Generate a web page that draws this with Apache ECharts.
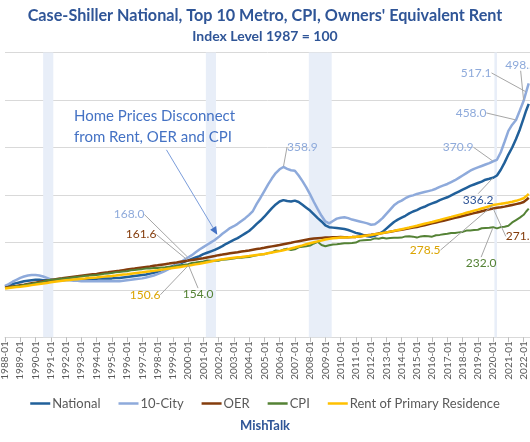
<!DOCTYPE html>
<html><head><meta charset="utf-8">
<script src="https://cdn.jsdelivr.net/npm/echarts@6/dist/echarts.min.js"></script>
<style>html,body{margin:0;padding:0;background:#fff}#chart{width:530px;height:442px}</style>
</head><body><div id="chart"></div>
<script>
// ---- axis domain ----
const firstYear = 1988, lastYear = 2022, lastMonth = 6;
const categories = [];
for (let y = firstYear; y <= lastYear; y++) {
  for (let m = 1; m <= 12; m++) {
    if (y === lastYear && m > lastMonth) break;
    categories.push(y + '-' + String(m).padStart(2, '0'));
  }
}
// observation dates (quarterly, plus latest 2022 readings)
const obsDates = [];
for (let y = firstYear; y <= 2021; y++) ['01','04','07','10'].forEach(m => obsDates.push(y + '-' + m));
obsDates.push('2022-01', '2022-03', '2022-05');

// ---- series values (Index level 1987 = 100) ----
const national = [
 107,109,112,114, 116,118,119,120, 121,121,120,120, 120,120,120,120,
 121,121,121,121, 121,121,122,122, 123,124,124,124, 124,125,125,126,
 127,128,129,130, 131,132,134,136, 138,141,144,147, 150,153,156,159,
 162,165,168,171, 175,178,181,184, 188,192,197,201, 205,209,214,219,
 224,231,239,246, 254,263,272,280, 286,289,287,286, 288,285,279,273,
 267,259,251,244, 236,232,231,230, 229,228,226,223, 220,218,215,213,
 212,214,218,222, 229,236,243,248, 252,256,261,265, 268,272,275,279,
 282,285,289,292, 295,299,303,307, 311,315,319,322, 325,328,332,334,
 336.2,341,353,368, 385,400,418,438, 462,478,492
];
const tenCity = [
 108,112,117,121, 125,128,130,131, 131,130,128,125, 122,121,121,120,
 120,120,119,119, 118,118,118,118, 118,118,118,118, 118,118,118,119,
 120,121,122,123, 124,126,128,130, 133,136,140,144, 148,153,158,163,
 168.0,173,179,185, 190,195,200,205, 211,218,224,230, 234,239,245,251,
 258,266,281,294, 308,322,335,346, 354,358.9,355,352, 351,341,329,316,
 301,285,270,256, 244,240,245,250, 252,253,251,248, 246,244,242,240,
 237,238,244,251, 260,269,278,284, 288,293,297,299, 302,304,306,308,
 310,313,317,320, 323,327,331,336, 341,346,351,355, 358,361,364,367,
 370.9,374,390,412, 435,448,458.0,478, 498.5,517.1,535
];
const oer = [
 104.5,105.8,107,108.2, 109.5,110.8,112.2,113.6, 115,116.4,117.8,119.2, 120.5,121.8,123,124.2,
 125.5,126.5,127.5,128.5, 129.5,130.5,131.5,132.5, 133.5,134.6,135.7,136.8, 138,139.1,140.2,141.4,
 142.5,143.6,144.7,145.9, 147,148.1,149.2,150.4, 151.5,152.8,154,155.2, 156.5,157.7,159,160.3,
 161.6,162.8,164,165.2, 166.5,168.1,169.7,171.3, 173,174.2,175.5,176.8, 178,179.2,180.5,181.7,
 183,184.4,185.8,187.1, 188.5,190,191.5,193, 194.5,196.1,197.7,199.3, 201,202.5,204,205.5,
 207,208,208.8,209.4, 210,210.4,210.7,210.8, 211,210.9,210.8,211, 211.5,212.5,213.8,214.9,
 216,217.2,218.5,219.7, 221,222.4,223.8,225.2, 226.5,228,229.5,231, 232.5,234.4,236.2,238.1,
 240,241.9,243.8,245.6, 247.5,249.5,251.5,253.5, 255.5,257.5,259.5,261.5, 263.5,265.5,267.5,269.5,
 271.5,273,274,275.3, 277,278.8,280.5,282.2, 285,289,294
];
const cpi = [
 104,105,106.3,107.5, 108.6,110.3,111.5,112.6, 114.2,115.6,117.2,119.8, 120.9,121.6,122.6,123.8,
 124.2,125.4,126.2,127.3, 128.2,129.4,129.8,130.8, 131.3,132.4,133.6,134.5, 135.3,136.9,137.5,138.3,
 139,141,141.6,142.9, 143.5,144.7,144.9,145.8, 146,146.8,147.5,148.3, 148.6,150.8,151.6,152.7,
 154.0,156.3,157.3,158.6, 159.7,161.6,161.3,161.4, 161.3,163.5,163.9,165.1, 165.8,167.3,167.3,168.5,
 169.2,171.2,172.7,174.2, 174.7,177.4,178.7,182.8, 181.6,184.7,186.4,183.8, 185.2,189.5,190.8,191.6,
 193.2,197.6,201.3,194.5, 191.9,193.8,195.4,196.1, 197,198.3,197.9,198.5, 199.4,203.6,204.6,205.1,
 205.6,208.4,207.4,209.6, 208,209,209.5,209.5, 210,212.5,213,212, 210,212.5,213.5,213,
 212,215,215.7,217, 218,219.8,219.7,221, 222,224.8,225.2,226, 226.5,229.6,230.2,230.8,
 232.0,229.5,232.1,232.8, 235,242,247,252, 258,265,271
];
const rent = [
 102.5,103.6,104.7,105.6, 106.5,107.6,108.7,109.8, 110.9,112.1,113.3,114.5, 115.7,116.8,117.9,119,
 120,120.8,121.6,122.4, 123.2,123.9,124.7,125.4, 126.1,126.9,127.7,128.5, 129.2,130.1,131.1,132,
 132.9,133.9,134.9,135.9, 136.9,138,139,140.1, 141.1,142.3,143.5,144.6, 145.8,147,148.2,149.4,
 150.6,152,153.5,155, 156.5,158.2,159.8,161.4, 163,164.1,165.3,166.4, 167.5,168.4,169.2,170.1,
 171,172.3,173.5,174.3, 175.5,177,178.5,180, 181.5,183.4,185.2,187.1, 189,191.3,193.5,195.8,
 198,200,202,204, 206,207.3,208.5,209.3, 210,210.3,210.6,211, 211.5,212.5,213.5,214.5,
 215.5,216.9,218.3,219.6, 221,222.6,224.2,225.9, 227.5,229.4,231.2,233.1, 235,237,239,241,
 243,245.1,247.2,249.4, 251.5,253.6,255.8,257.9, 260,262.3,264.5,266.8, 269,271.4,273.8,276.1,
 278.5,280,281.2,282.6, 284,285.5,287.5,290, 293,297,302
];
const recessions = [['1990-07','1991-03'],['2001-03','2001-11'],['2007-12','2009-06'],['2020-02','2020-04']];
// annotation arrow: from [date, value] to [date, value]
const arrowFrom = ['1998-08', 395], arrowTo = ['2001-12', 216];

// ---- labelled points: date + label offset from the point (px) ----
const labelSpecs = {
  'National': [{date:'2020-01', dx:-15, dy:22}],
  '10-City': [{date:'2000-01', dx:-59, dy:-43},{date:'2006-04', dx:19, dy:-20},{date:'2020-01', dx:-35, dy:-14},
              {date:'2021-07', dx:-45, dy:-7},{date:'2022-01', dx:-3, dy:-36},{date:'2022-03', dx:-50, dy:-19}],
  'OER': [{date:'2000-01', dx:-47, dy:-26},{date:'2020-01', dx:28, dy:28}],
  'CPI': [{date:'2000-01', dx:10, dy:30},{date:'2020-01', dx:-12, dy:36}],
  'Rent of Primary Residence': [{date:'2000-01', dx:-43, dy:29},{date:'2020-01', dx:-68, dy:45}]
};

const seriesDefs = [
  {name:'National', values:national, color:'#21609a', labelColor:'#2f5597', width:2.5},
  {name:'10-City', values:tenCity, color:'#8eaadb', labelColor:'#8eaadb', width:2.5},
  {name:'OER', values:oer, color:'#843c0c', labelColor:'#843c0c', width:2.5},
  {name:'CPI', values:cpi, color:'#548235', labelColor:'#548235', width:2},
  {name:'Rent of Primary Residence', values:rent, color:'#ffc000', labelColor:'#dba400', width:2.5}
];

const FONT = 'Lato, "Open Sans", sans-serif';

const series = seriesDefs.map(def => {
  const specs = labelSpecs[def.name] || [];
  const offsets = {};
  const data = def.values.map((v, i) => {
    const d = obsDates[i];
    const spec = specs.find(s => s.date === d);
    if (!spec) return [d, v];
    offsets[i] = spec;
    return {
      value: [d, v], symbol: 'circle', symbolSize: 1,
      label: {show: true, position: 'inside', color: def.labelColor, fontFamily: FONT, fontSize: 12,
              formatter: p => p.value[1].toFixed(1)}
    };
  });
  return {
    name: def.name, type: 'line', data,
    symbol: 'none', showSymbol: true, showAllSymbol: true,
    lineStyle: {color: def.color, width: def.width},
    itemStyle: {color: def.color},
    label: {show: false},
    labelLine: {show: true, lineStyle: {color: '#a6a6a6', width: 1}},
    labelLayout: p => offsets[p.dataIndex] ? {dx: offsets[p.dataIndex].dx, dy: offsets[p.dataIndex].dy, hideOverlap: false} : {},
    emphasis: {disabled: true},
    z: 3
  };
});

// recession shading
series.unshift({
  name: 'recessions', type: 'line', data: [], z: 1, silent: true,
  markArea: {silent: true, itemStyle: {color: '#e8eef8'},
    data: recessions.map(r => [{xAxis: r[0]}, {xAxis: r[1]}])}
});

const chart = echarts.init(document.getElementById('chart'), null, {renderer: 'canvas'});
chart.setOption({
  animation: false,
  backgroundColor: '#ffffff',
  title: [
    {text: "Case-Shiller National, Top 10 Metro, CPI, Owners' Equivalent Rent",
     subtext: 'Index Level 1987 = 100', left: 'center', top: 3, itemGap: 5,
     textStyle: {fontFamily: FONT, fontWeight: 'bold', fontSize: 16.2, color: '#2f5597'},
     subtextStyle: {fontFamily: FONT, fontWeight: 'bold', fontSize: 14, color: '#2f5597'}},
    {text: 'MishTalk', left: 'center', top: 414,
     textStyle: {fontFamily: FONT, fontWeight: 'bold', fontSize: 13, color: '#2f5597'}}
  ],
  legend: {
    data: seriesDefs.map(d => d.name), top: 392, left: 'center', icon: 'rect',
    itemWidth: 20, itemHeight: 2.5, itemGap: 18,
    textStyle: {fontFamily: FONT, fontSize: 13, color: '#595959', padding: [0, 0, 0, -3]}
  },
  grid: {left: 3.5, top: 52.6, width: 527.9, height: 284.6, containLabel: false},
  xAxis: {
    type: 'category', data: categories, boundaryGap: false,
    axisLine: {lineStyle: {color: '#d9d9d9'}},
    axisTick: {interval: 11, length: 5, lineStyle: {color: '#bfbfbf'}},
    axisLabel: {interval: 11, rotate: 90, fontFamily: FONT, fontSize: 10, color: '#595959', margin: 4},
    splitLine: {show: false}
  },
  yAxis: {
    type: 'value', min: 0, max: 600, interval: 100,
    axisLabel: {show: false}, axisLine: {show: false}, axisTick: {show: false},
    splitLine: {lineStyle: {color: '#d9d9d9'}}
  },
  series
});

// annotation text + arrow placed through the chart's own scales
const p1 = chart.convertToPixel({gridIndex: 0}, arrowFrom);
const p2 = chart.convertToPixel({gridIndex: 0}, arrowTo);
const ang = Math.atan2(p2[1] - p1[1], p2[0] - p1[0]);
const hl = 8, hw = 3.5;
const base = [p2[0] - hl * Math.cos(ang), p2[1] - hl * Math.sin(ang)];
const head = [
  p2,
  [base[0] + hw * Math.sin(ang), base[1] - hw * Math.cos(ang)],
  [base[0] - hw * Math.sin(ang), base[1] + hw * Math.cos(ang)]
];
chart.setOption({
  graphic: [
    {type: 'text', left: 74, top: 106, silent: true, z: 10,
     style: {text: 'Home Prices Disconnect\nfrom Rent, OER and CPI', fontFamily: FONT, fontSize: 15,
             lineHeight: 21, fill: '#4472c4'}},
    {type: 'line', silent: true, z: 10,
     shape: {x1: p1[0], y1: p1[1], x2: base[0], y2: base[1]},
     style: {stroke: '#7b9ddb', lineWidth: 1}},
    {type: 'polygon', silent: true, z: 10, shape: {points: head}, style: {fill: '#4472c4'}}
  ]
});
</script></body></html>
